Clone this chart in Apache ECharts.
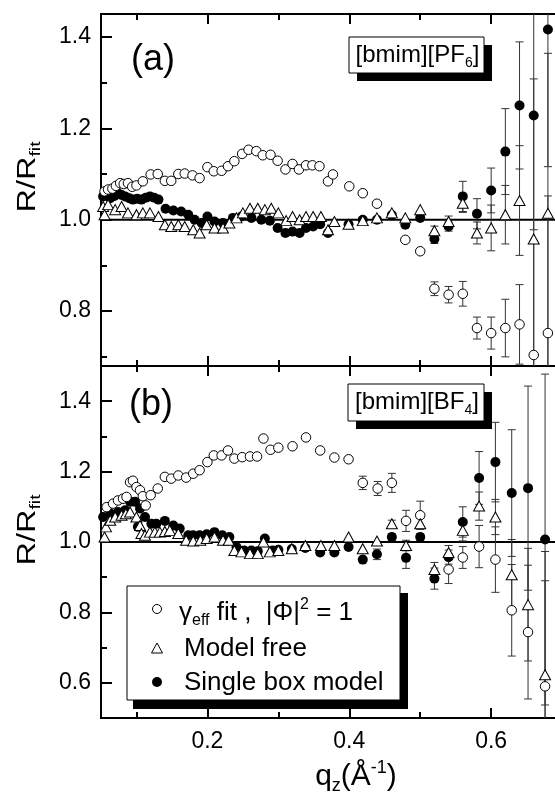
<!DOCTYPE html>
<html><head><meta charset="utf-8">
<script src="https://cdn.jsdelivr.net/npm/echarts@6/dist/echarts.min.js"></script>
<style>html,body{margin:0;padding:0;background:#fff}#c{width:555px;height:796px}</style>
</head><body><div id="c"></div><script>
// ---------- axis settings ----------
const X_MIN = 0.05, X_MAX = 0.69;
const yRangeA = [0.68, 1.45];
const yRangeB = [0.5, 1.5];
const xMajorTicks = [0.2, 0.4, 0.6];
const xMinorTicks = [0.1, 0.3, 0.5, 0.7];
const yMajorTicksA = [0.8, 1.0, 1.2, 1.4];
const yMinorTicksA = [0.7, 0.9, 1.1, 1.3];
const yMajorTicksB = [0.6, 0.8, 1.0, 1.2, 1.4];
const yMinorTicksB = [0.7, 0.9, 1.1, 1.3];
const refValue = 1.0;

// ---------- panel (a) [bmim][PF6] ----------
const openA_q = [0.055,0.060,0.066,0.071,0.077,0.082,0.088,0.094,0.100,0.109,0.120,0.130,0.140,0.149,0.159,0.168,0.179,0.189,0.200,0.209,0.220,0.229,0.238,0.249,0.258,0.269,0.278,0.289,0.299,0.310,0.320,0.329,0.339,0.348,0.358,0.370,0.377,0.400,0.419,0.439,0.479,0.500,0.520,0.540,0.560,0.580,0.600,0.620,0.640,0.660,0.680];
const openA_v = [1.062,1.066,1.068,1.074,1.080,1.078,1.080,1.072,1.075,1.084,1.099,1.100,1.085,1.085,1.100,1.101,1.097,1.091,1.115,1.106,1.107,1.117,1.128,1.144,1.153,1.150,1.141,1.142,1.129,1.110,1.122,1.110,1.119,1.119,1.117,1.084,1.099,1.073,1.058,1.035,0.956,0.931,0.849,0.836,0.838,0.763,0.752,0.763,0.771,0.704,0.752];
const openA_e = [0,0,0,0,0,0,0,0,0,0,0,0,0,0,0,0,0,0,0,0,0,0,0,0,0,0,0,0,0,0,0,0,0,0,0,0,0,0,0,0,0,0,0.015,0.018,0.027,0.024,0.035,0.063,0.087,0.25,0.30];

const triA_q = [0.053,0.055,0.060,0.070,0.079,0.088,0.100,0.109,0.119,0.131,0.140,0.149,0.159,0.168,0.180,0.189,0.199,0.210,0.222,0.231,0.241,0.250,0.260,0.271,0.281,0.290,0.300,0.311,0.320,0.330,0.339,0.349,0.360,0.370,0.379,0.399,0.419,0.439,0.460,0.479,0.500,0.520,0.540,0.560,0.580,0.600,0.620,0.640,0.660,0.680];
const triA_v = [1.029,1.011,1.033,1.022,1.029,1.015,1.011,1.015,1.015,1.007,0.989,0.985,0.989,0.985,0.978,0.971,0.989,0.982,0.982,0.993,1.004,1.015,1.025,1.025,1.022,1.025,1.015,0.998,1.007,1.000,1.007,1.007,1.007,0.978,0.996,0.990,0.998,1.004,1.015,1.004,1.022,0.976,0.996,1.036,0.971,0.982,1.011,1.042,0.958,1.014];
const triA_e = [0,0,0,0,0,0,0,0,0,0,0,0,0,0,0,0,0,0,0,0,0,0,0,0,0,0,0,0,0,0,0,0,0,0,0,0,0,0,0,0,0,0.01,0.012,0.02,0.024,0.05,0.064,0.12,0.35,0.35];

const fillA_q = [0.053,0.058,0.063,0.069,0.074,0.079,0.084,0.090,0.095,0.101,0.107,0.113,0.119,0.125,0.131,0.141,0.152,0.163,0.173,0.182,0.192,0.200,0.210,0.222,0.236,0.248,0.262,0.276,0.288,0.299,0.310,0.320,0.330,0.339,0.349,0.359,0.370,0.399,0.419,0.439,0.460,0.479,0.500,0.520,0.540,0.560,0.580,0.600,0.620,0.640,0.660,0.680];
const fillA_v = [1.051,1.056,1.047,1.052,1.058,1.054,1.051,1.047,1.044,1.046,1.044,1.048,1.051,1.048,1.044,1.024,1.020,1.018,1.011,1.000,0.993,1.007,0.996,0.993,1.004,1.007,1.004,1.000,0.998,0.982,0.971,0.974,0.971,0.982,0.985,0.990,0.971,0.990,1.000,1.000,1.010,0.989,1.004,0.958,0.985,1.051,1.013,1.064,1.149,1.250,1.228,1.416];
const fillA_e = [0,0,0,0,0,0,0,0,0,0,0,0,0,0,0,0,0,0,0,0,0,0,0,0,0,0,0,0,0,0,0,0,0,0,0,0,0,0,0,0,0,0,0,0.01,0.01,0.033,0.033,0.049,0.094,0.139,0.25,0.30];

// ---------- panel (b) [bmim][BF4] ----------
const openB_q = [0.058,0.067,0.074,0.081,0.086,0.091,0.095,0.100,0.105,0.109,0.113,0.120,0.130,0.140,0.149,0.159,0.170,0.180,0.189,0.200,0.209,0.220,0.229,0.238,0.249,0.260,0.270,0.279,0.289,0.300,0.320,0.339,0.359,0.379,0.399,0.419,0.440,0.460,0.480,0.500,0.540,0.560,0.583,0.606,0.629,0.652,0.676];
const openB_v = [1.099,1.109,1.118,1.123,1.128,1.170,1.174,1.156,1.147,1.130,1.104,1.133,1.152,1.185,1.180,1.189,1.183,1.194,1.204,1.227,1.246,1.246,1.260,1.237,1.241,1.243,1.243,1.294,1.262,1.268,1.272,1.297,1.260,1.240,1.235,1.168,1.152,1.168,1.060,1.076,0.922,0.956,0.987,0.950,0.806,0.744,0.590];
const openB_e = [0,0,0,0,0,0,0,0,0,0,0,0,0,0,0,0,0,0,0,0,0,0,0,0,0,0,0,0,0,0,0,0,0,0,0,0.019,0.02,0.027,0.03,0.04,0.04,0.031,0.06,0.093,0.13,0.19,0.30];

const triB_q = [0.055,0.057,0.063,0.070,0.079,0.085,0.091,0.100,0.105,0.107,0.112,0.119,0.126,0.133,0.140,0.147,0.159,0.170,0.180,0.190,0.199,0.210,0.222,0.230,0.238,0.248,0.260,0.271,0.279,0.288,0.300,0.319,0.338,0.360,0.379,0.399,0.419,0.439,0.460,0.480,0.500,0.520,0.540,0.560,0.583,0.606,0.629,0.652,0.676];
const triB_v = [1.014,1.043,1.062,1.071,1.076,1.080,1.085,1.071,1.047,1.024,1.019,1.028,1.028,1.028,1.030,1.033,1.024,1.005,1.003,1.005,1.010,1.014,1.005,1.005,0.976,0.972,0.967,0.967,1.000,0.972,0.976,0.981,0.990,0.990,0.990,1.014,0.981,1.003,1.052,0.990,1.052,0.922,0.970,1.033,1.102,1.071,0.907,0.822,0.623];
const triB_e = [0,0,0,0,0,0,0,0,0,0,0,0,0,0,0,0,0,0,0,0,0,0,0,0,0,0,0,0,0,0,0,0,0,0,0,0,0,0,0.01,0.015,0.015,0.02,0.02,0.03,0.04,0.05,0.10,0.16,0.35];

const fillB_q = [0.053,0.063,0.074,0.084,0.091,0.098,0.102,0.105,0.112,0.121,0.128,0.140,0.152,0.161,0.173,0.180,0.189,0.199,0.210,0.221,0.231,0.241,0.252,0.262,0.271,0.281,0.292,0.300,0.319,0.338,0.359,0.379,0.399,0.419,0.439,0.460,0.480,0.500,0.520,0.540,0.560,0.583,0.606,0.629,0.652,0.676];
const fillB_v = [1.071,1.081,1.085,1.090,1.114,1.114,1.043,1.095,1.071,1.052,1.052,1.060,1.047,1.038,1.019,1.019,1.019,1.022,1.028,1.019,1.014,0.986,0.976,0.976,0.974,1.010,0.976,0.978,0.980,0.983,0.970,0.970,0.986,0.950,0.965,1.014,0.955,1.014,0.896,0.957,1.057,1.182,1.227,1.139,1.153,1.007];
const fillB_e = [0,0,0,0,0,0,0,0,0,0,0,0,0,0,0,0,0,0,0,0,0,0,0,0,0,0,0,0,0,0,0,0,0,0,0.015,0.01,0.03,0.01,0.03,0.02,0.043,0.075,0.113,0.18,0.29,0.47];

const seriesNames = ['γeff fit', 'Model free', 'Single box model'];

// ---------- build ----------
const FONT = "'Liberation Sans', Arial, Helvetica, sans-serif";
const zip = (q, v) => q.map((x, i) => [x, v[i]]);
const zipErr = (q, v, e) => q.map((x, i) => [x, v[i], e[i]]).filter(d => d[2] > 0);

function xAxis(grid, pos, ticks, len, labels) {
  return {
    type: 'value', gridIndex: grid, position: pos, min: X_MIN, max: X_MAX,
    axisLine: { show: true, onZero: false, lineStyle: { color: '#000', width: 2 } },
    axisTick: { show: true, inside: true, length: len, customValues: ticks, lineStyle: { color: '#000', width: 2 } },
    axisLabel: labels ? { show: true, customValues: labels, margin: 12, color: '#000', fontFamily: FONT, fontSize: 23, formatter: v => v.toFixed(1) } : { show: false },
    splitLine: { show: false }
  };
}
function yAxis(grid, range, ticks, len, labels) {
  return {
    type: 'value', gridIndex: grid, position: 'left', min: range[0], max: range[1],
    axisLine: { show: true, onZero: false, lineStyle: { color: '#000', width: 2 } },
    axisTick: { show: true, inside: true, length: len, customValues: ticks, lineStyle: { color: '#000', width: 2 } },
    axisLabel: labels ? { show: true, customValues: labels, margin: 10, color: '#000', fontFamily: FONT, fontSize: 23, formatter: v => v.toFixed(1) } : { show: false },
    splitLine: { show: false }
  };
}

function errRender(params, api) {
  const x = api.value(0), y = api.value(1), e = api.value(2);
  const p1 = api.coord([x, y + e]);
  const p2 = api.coord([x, y - e]);
  const cw = 4;
  const st = { stroke: '#333', lineWidth: 1 };
  return {
    type: 'group',
    children: [
      { type: 'line', shape: { x1: p1[0], y1: p1[1], x2: p2[0], y2: p2[1] }, style: st },
      { type: 'line', shape: { x1: p1[0] - cw, y1: p1[1], x2: p1[0] + cw, y2: p1[1] }, style: st },
      { type: 'line', shape: { x1: p2[0] - cw, y1: p2[1], x2: p2[0] + cw, y2: p2[1] }, style: st }
    ]
  };
}

function panelSeries(p, open, tri, fill) {
  const xi = p * 4, yi = p * 2;
  const base = { xAxisIndex: xi, yAxisIndex: yi };
  return [
    Object.assign({ type: 'line', data: [[X_MIN, refValue], [X_MAX, refValue]], symbol: 'none', lineStyle: { color: '#000', width: 2 }, silent: true, z: 2 }, base),
    Object.assign({ type: 'custom', renderItem: errRender, data: zipErr(...fill), encode: { x: 0, y: 1 }, clip: true, z: 3 }, base),
    Object.assign({ type: 'custom', renderItem: errRender, data: zipErr(...open), encode: { x: 0, y: 1 }, clip: true, z: 3 }, base),
    Object.assign({ type: 'custom', renderItem: errRender, data: zipErr(...tri), encode: { x: 0, y: 1 }, clip: true, z: 3 }, base),
    Object.assign({ type: 'scatter', name: seriesNames[2], data: zip(fill[0], fill[1]), symbol: 'circle', symbolSize: 10, itemStyle: { color: '#000', opacity: 1 }, clip: true, z: 4 }, base),
    Object.assign({ type: 'scatter', name: seriesNames[0], data: zip(open[0], open[1]), symbol: 'circle', symbolSize: 9.5, itemStyle: { color: '#fff', borderColor: '#000', borderWidth: 1, opacity: 1 }, clip: true, z: 5 }, base),
    Object.assign({ type: 'scatter', name: seriesNames[1], data: zip(tri[0], tri[1]), symbol: 'triangle', symbolSize: [11, 10], itemStyle: { color: '#fff', borderColor: '#000', borderWidth: 1, opacity: 1 }, clip: true, z: 6 }, base)
  ];
}

const rich = (fs) => ({
  n: { fontSize: fs, fontFamily: FONT, color: '#000', lineHeight: fs + 6 },
  sub: { fontSize: Math.round(fs * 0.6), fontFamily: FONT, color: '#000', lineHeight: Math.round(fs * 0.5), verticalAlign: 'bottom' },
  sup: { fontSize: Math.round(fs * 0.6), fontFamily: FONT, color: '#000', lineHeight: Math.round(fs * 0.5), verticalAlign: 'top' }
});

function boxLabel(x, y, w, h, text) {
  return [
    { type: 'rect', shape: { x: x + 8, y: y + 8, width: w, height: h }, style: { fill: '#000' }, z: 100 },
    { type: 'rect', shape: { x: x, y: y, width: w, height: h }, style: { fill: '#fff', stroke: '#000', lineWidth: 1 }, z: 101 },
    { type: 'text', x: x + w / 2 + 1, y: y + h / 2, z: 102, style: { text: text, align: 'center', verticalAlign: 'middle', rich: rich(24) } }
  ];
}

const graphics = [].concat(
  [
    { type: 'text', x: 153, y: 60, z: 50, style: { text: '(a)', font: '36px ' + FONT, fill: '#000', align: 'center', verticalAlign: 'middle' } },
    { type: 'text', x: 151, y: 405, z: 50, style: { text: '(b)', font: '36px ' + FONT, fill: '#000', align: 'center', verticalAlign: 'middle' } }
  ],
  boxLabel(349, 37, 135, 36, '{n|[bmim][PF}{sub|6}{n|]}'),
  boxLabel(348, 384, 136, 37, '{n|[bmim][BF}{sub|4}{n|]}'),
  [
    // legend
    { type: 'rect', shape: { x: 133, y: 593, width: 275, height: 116 }, style: { fill: '#000' }, z: 100 },
    { type: 'rect', shape: { x: 127, y: 586, width: 273, height: 114 }, style: { fill: '#fff', stroke: '#000', lineWidth: 1 }, z: 101 },
    { type: 'circle', shape: { cx: 157, cy: 609, r: 4.5 }, style: { fill: '#fff', stroke: '#000', lineWidth: 1 }, z: 102 },
    { type: 'polygon', shape: { points: [[151.5, 653], [162.5, 653], [157, 643]] }, style: { fill: '#fff', stroke: '#000', lineWidth: 1 }, z: 102 },
    { type: 'circle', shape: { cx: 157, cy: 682, r: 5 }, style: { fill: '#000' }, z: 102 },
    { type: 'text', x: 179, y: 613, z: 102, style: { text: '{n|γ}{sub|eff}{n| fit ,  |Φ|}{sup|2}{n| = 1}', align: 'left', verticalAlign: 'middle', rich: rich(26) } },
    { type: 'text', x: 184, y: 649, z: 102, style: { text: 'Model free', font: '26px ' + FONT, fill: '#000', align: 'left', verticalAlign: 'middle' } },
    { type: 'text', x: 184, y: 683, z: 102, style: { text: 'Single box model', font: '26px ' + FONT, fill: '#000', align: 'left', verticalAlign: 'middle' } },
    // axis titles
    { type: 'text', x: 356, y: 777, z: 50, style: { text: '{n|q}{sub|z}{n|(Å}{sup|-1}{n|)}', align: 'center', verticalAlign: 'middle', rich: rich(30) } },
    { type: 'text', x: 28, y: 177, rotation: Math.PI / 2, scaleX: 1.3, z: 50, style: { text: '{n|R/R}{sub|fit}', align: 'center', verticalAlign: 'middle', rich: rich(25) } },
    { type: 'text', x: 28, y: 530, rotation: Math.PI / 2, scaleX: 1.3, z: 50, style: { text: '{n|R/R}{sub|fit}', align: 'center', verticalAlign: 'middle', rich: rich(25) } }
  ]
);

const option = {
  animation: false,
  backgroundColor: '#fff',
  grid: [
    { left: 101, right: 0, top: 14, height: 352 },
    { left: 101, right: 0, top: 366, height: 352 }
  ],
  xAxis: [
    xAxis(0, 'bottom', xMajorTicks, 10, null),
    xAxis(0, 'bottom', xMinorTicks, 6, null),
    xAxis(0, 'top', xMajorTicks, 10, null),
    xAxis(0, 'top', xMinorTicks, 6, null),
    xAxis(1, 'bottom', xMajorTicks, 10, xMajorTicks),
    xAxis(1, 'bottom', xMinorTicks, 6, null),
    xAxis(1, 'top', xMajorTicks, 10, null),
    xAxis(1, 'top', xMinorTicks, 6, null)
  ],
  yAxis: [
    yAxis(0, yRangeA, yMajorTicksA, 11, yMajorTicksA),
    yAxis(0, yRangeA, yMinorTicksA, 6, null),
    yAxis(1, yRangeB, yMajorTicksB, 11, yMajorTicksB),
    yAxis(1, yRangeB, yMinorTicksB, 6, null)
  ],
  series: [].concat(
    panelSeries(0, [openA_q, openA_v, openA_e], [triA_q, triA_v, triA_e], [fillA_q, fillA_v, fillA_e]),
    panelSeries(1, [openB_q, openB_v, openB_e], [triB_q, triB_v, triB_e], [fillB_q, fillB_v, fillB_e])
  ),
  graphic: graphics
};

const chart = echarts.init(document.getElementById('c'), null, { renderer: 'canvas' });
chart.setOption(option);
</script></body></html>
